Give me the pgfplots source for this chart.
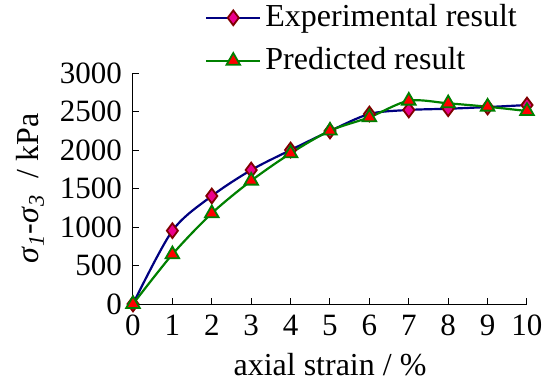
\documentclass[border=0pt]{standalone}
\usepackage{fontspec}
\setmainfont{Liberation Serif}
\usepackage{pgfplots}
\pgfplotsset{compat=1.18}
\definecolor{navyline}{RGB}{0,0,128}
\definecolor{greenline}{RGB}{0,128,0}
\definecolor{maroonedge}{RGB}{128,0,0}
\begin{document}
\fontsize{16}{19}\selectfont
\begin{tikzpicture}
\begin{axis}[
  at={(0,0)}, anchor=south west,
  scale only axis,
  width=197pt, height=115.5pt,
  xmin=0, xmax=10, ymin=0, ymax=3000,
  axis x line*=bottom, axis y line*=left,
  axis line style={line width=0.5pt, black},
  xtick={0,...,10}, ytick={0,500,...,3000},
  xticklabels={0,1,2,3,4,5,6,7,8,9,10},
  yticklabels={0,500,1000,1500,2000,2500,3000},
  tick align=inside, major tick length=3pt,
  tick style={line width=0.5pt, black},
  tick label style={font=\rmfamily\fontsize{15.5}{18}\selectfont},
  label style={font=\rmfamily\fontsize{16}{19}\selectfont},
  xlabel={axial strain / \%},
  ylabel={\textit{σ}\textsubscript{\textit{1}}-\textit{σ}\textsubscript{\textit{3}}~ / kPa},
  xlabel style={yshift=2pt},
  ylabel style={yshift=-3pt},
  clip=false,
  legend style={draw=none, fill=none, at={(0.177,1.325)}, anchor=north west,
    font=\rmfamily\fontsize{16}{19}\selectfont, row sep=4pt, inner sep=1pt},
  legend cell align=left,
  legend image code/.code={\draw[mark repeat=2,mark phase=2] plot coordinates {(0cm,0cm)(0.475cm,0cm)(0.95cm,0cm)};},
]
\addplot[navyline, line width=1.1pt, smooth, tension=0.5,
  mark=diamond*, mark size=3.7pt,
  mark options={fill=magenta, draw=maroonedge, line width=0.9pt, solid}]
  coordinates {(0,0)(1,952)(2,1403)(3,1740)(4,2000)(5,2247)(6,2468)(7,2520)(8,2536)(9,2558)(10,2584)};
\addlegendentry{Experimental result}
\addplot[greenline, line width=1.1pt, smooth, tension=0.5,
  mark=triangle*, mark size=3.9pt,
  mark options={fill=red, draw=greenline, line width=0.9pt, solid}]
  coordinates {(0,0)(1,645)(2,1178)(3,1601)(4,1957)(5,2251)(6,2425)(7,2640)(8,2606)(9,2562)(10,2506)};
\addlegendentry{Predicted result}
\end{axis}
\pgfresetboundingbox
\useasboundingbox (-66.5pt,-39pt) rectangle (204.5pt,152pt);
\end{tikzpicture}
\end{document}
